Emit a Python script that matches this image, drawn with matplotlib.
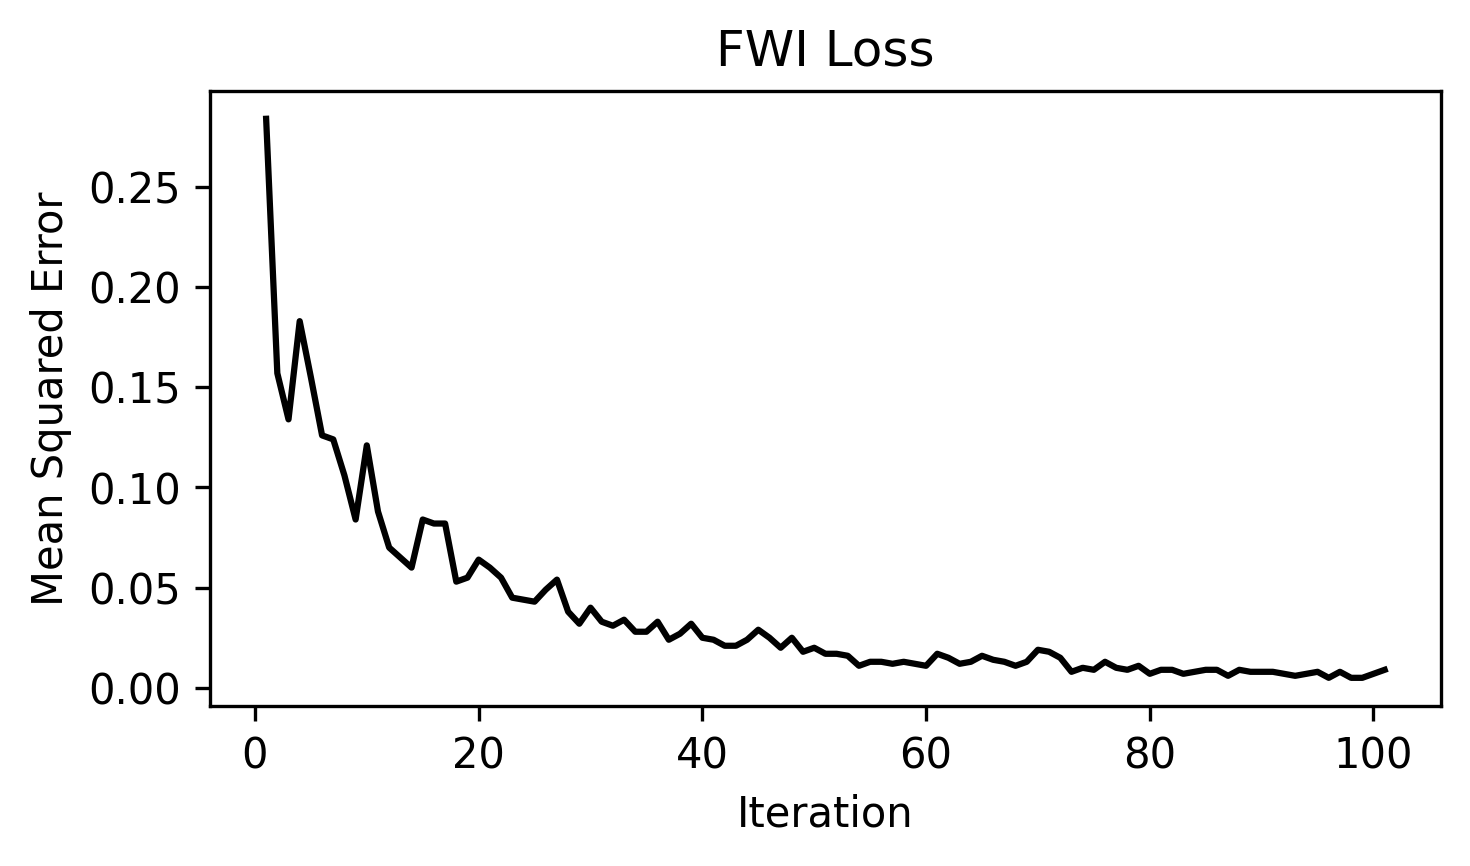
import matplotlib
matplotlib.use('Agg')
import matplotlib.pyplot as plt

# Loss values per iteration
loss = [0.284, 0.157, 0.134, 0.183, 0.155, 0.126, 0.124, 0.106, 0.084, 0.121,
        0.088, 0.070, 0.065, 0.060, 0.084, 0.082, 0.082, 0.053, 0.055, 0.064,
        0.060, 0.055, 0.045, 0.044, 0.043, 0.049, 0.054, 0.038, 0.032, 0.040,
        0.033, 0.031, 0.034, 0.028, 0.028, 0.033, 0.024, 0.027, 0.032, 0.025,
        0.024, 0.021, 0.021, 0.024, 0.029, 0.025, 0.020, 0.025, 0.018, 0.020,
        0.017, 0.017, 0.016, 0.011, 0.013, 0.013, 0.012, 0.013, 0.012, 0.011,
        0.017, 0.015, 0.012, 0.013, 0.016, 0.014, 0.013, 0.011, 0.013, 0.019,
        0.018, 0.015, 0.008, 0.010, 0.009, 0.013, 0.010, 0.009, 0.011, 0.007,
        0.009, 0.009, 0.007, 0.008, 0.009, 0.009, 0.006, 0.009, 0.008, 0.008,
        0.008, 0.007, 0.006, 0.007, 0.008, 0.005, 0.008, 0.005, 0.005, 0.007,
        0.009]
iterations = list(range(1, len(loss) + 1))

fig, ax = plt.subplots(figsize=(4.9, 2.887), dpi=300)
ax.plot(iterations, loss, color='black', linewidth=1.5)
ax.set_title('FWI Loss')
ax.set_xlabel('Iteration')
ax.set_ylabel('Mean Squared Error')
fig.subplots_adjust(left=0.143, right=0.98, top=0.895, bottom=0.185)
fig.savefig('out.png')
